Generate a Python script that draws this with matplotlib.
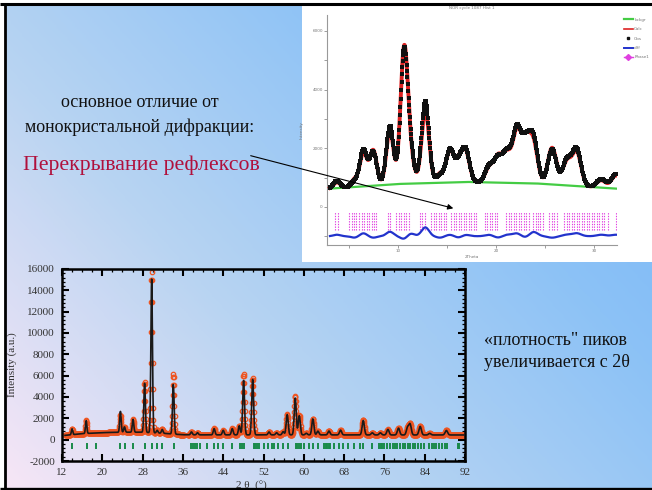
import numpy as np
import matplotlib
matplotlib.use("Agg")
import matplotlib.pyplot as plt
from matplotlib.colors import LinearSegmentedColormap
from matplotlib.lines import Line2D
from matplotlib.patches import Rectangle
from matplotlib.ticker import MultipleLocator, FixedLocator, FuncFormatter

plt.rcParams['font.family'] = ['Liberation Serif', 'DejaVu Serif']
plt.rcParams['axes.unicode_minus'] = False

W, H = 652, 490

# ---- bottom chart: powder pattern with Rietveld fit ----
xrd_peak_pos = [14.0, 16.8, 23.6, 24.4, 26.1, 28.4, 29.8, 30.9, 31.9, 34.1,
                37.7, 38.9, 42.2, 44.0, 45.8, 47.2, 48.05, 49.85, 53.1, 54.6,
                55.9, 56.7, 58.3, 59.1, 60.5, 61.8, 62.8, 65.0, 67.3, 71.8,
                73.6, 75.2, 76.7, 78.8, 80.6, 81.1, 83.1, 85.0, 88.3]
xrd_peak_calc = [550, 1200, 1950, 500, 1200, 4600, 14400, 250, 350, 4650,
                 270, 200, 580, 425, 580, 850, 5100, 5200, 270, 200,
                 300, 1900, 3450, 1800, 150, 1500, 350, 360, 450, 1350,
                 200, 200, 520, 640, 700, 1000, 800, 150, 420]
xrd_peak_obs = [550, 1250, 1600, 500, 1250, 4750, 15050, 300, 400, 5600,
                270, 200, 600, 425, 600, 850, 5700, 5350, 270, 200,
                300, 1950, 3650, 1830, 150, 1520, 350, 360, 450, 1400,
                200, 200, 520, 640, 700, 1050, 830, 150, 430]
xrd_bg_x = [12, 13, 16, 20, 24, 28, 32, 36, 40, 60, 80, 92]
xrd_bg_y = [380, 420, 560, 660, 700, 700, 600, 460, 450, 450, 440, 440]
xrd_excluded = (36.3, 37.0)
xrd_hkl = [13.99, 16.97, 18.83, 23.6, 24.46, 26.1, 28.4, 29.8, 30.9, 31.9,
           34.2, 37.7, 38.0, 38.4, 38.7, 39.4, 40.7, 42.2, 42.9, 44.0,
           45.8, 47.3, 47.65, 48.1, 50.1, 50.4, 50.8, 51.1, 52.0, 52.8,
           53.6, 54.1, 54.9, 55.9, 56.9, 58.4, 58.7, 59.1, 59.4, 60.0,
           61.0, 61.9, 62.8, 64.0, 64.35, 64.7, 65.0, 65.3, 66.0, 67.0,
           67.7, 68.7, 69.9, 71.2, 71.8, 73.6, 75.0, 75.3, 75.6, 75.9,
           76.6, 77.1, 77.8, 78.1, 78.5, 79.1, 79.6, 80.1, 80.6, 81.1,
           81.6, 82.0, 82.6, 83.2, 83.9, 84.9, 85.4, 85.8, 86.2, 86.9,
           87.5, 88.0, 88.5, 90.7, 90.9]
xrd_xticks = [12, 20, 28, 36, 44, 52, 60, 68, 76, 84, 92]
xrd_yticks = [-2000, 0, 2000, 4000, 6000, 8000, 10000, 12000, 14000, 16000]

# ---- inset: profile fit of another pattern ----
ins_peak_pos = [3.8, 5.6, 6.5, 7.5, 9.2, 10.65, 11.3, 12.8, 14.3, 15.3,
                16.2, 16.9, 19.3, 20.2, 21.1, 22.1, 23.0, 23.8, 25.7, 27.2,
                28.2, 30.7, 32.2]
ins_peak_obs = [250, 200, 1250, 1150, 2000, 4450, 900, 2800, 250, 1100,
                600, 1050, 550, 800, 1000, 1800, 1300, 1500, 1200, 850,
                1250, 300, 500]
ins_peak_calc = [200, 250, 1150, 1200, 1850, 4550, 800, 2500, 300, 1050,
                 650, 1000, 500, 850, 950, 1700, 1350, 1350, 1250, 800,
                 1150, 250, 450]
ins_bg_x = [3, 10, 17, 24, 32.3]
ins_bg_y = [620, 780, 850, 800, 620]
ins_hkl = [3.60, 3.94, 5.06, 5.30, 5.57, 5.80, 6.07, 6.31, 6.55, 6.82,
           7.05, 7.33, 7.56, 7.83, 9.02, 9.25, 9.86, 10.13, 10.37, 10.61,
           10.88, 11.15, 12.30, 12.50, 12.74, 13.42, 13.65, 13.92, 14.20, 14.43,
           14.67, 14.94, 15.45, 15.68, 15.96, 16.23, 16.46, 16.70, 16.97, 17.24,
           17.48, 17.72, 17.99, 18.83, 19.07, 19.34, 19.61, 19.85, 20.08, 21.03,
           21.30, 21.54, 21.78, 22.05, 22.32, 22.55, 22.79, 23.06, 23.33, 23.74,
           24.01, 24.25, 24.48, 24.75, 25.43, 25.70, 25.94, 26.17, 26.95, 27.19,
           27.46, 27.73, 27.97, 28.21, 28.48, 28.75, 28.98, 29.22, 29.49, 29.76,
           30.00, 30.23, 30.50, 30.78, 31.01, 31.35, 32.2]
ins_xticks = [10, 20, 30]
ins_yticks = [0, 2000, 4000, 6000]
ins_legend = ['bckgr', 'Calc', 'Obs', 'diff', 'Phase1']
diff_offset = -1000


def profile(x, pos, amp, sig0, sig1):
    y = np.zeros_like(x)
    for p, a in zip(pos, amp):
        s = sig0 + sig1 * p
        y += a * np.exp(-0.5 * ((x - p) / s) ** 2)
    return y


fig = plt.figure(figsize=(W / 100, H / 100), dpi=100, facecolor='white')

# slide background
bg = fig.add_axes([0, 0, 1, 1])
bg.set_xlim(0, W)
bg.set_ylim(H, 0)
bg.axis('off')
gx, gy = np.meshgrid(np.linspace(0, 1, 300), np.linspace(0, 1, 240))
t = 0.6 * gx + 0.4 * (1 - gy)
cmap = LinearSegmentedColormap.from_list(
    'slide', [(0, '#f7e6f6'), (0.35, '#b8d4f2'), (0.7, '#8cc2f6'), (1, '#74b4f8')])
bg.imshow(t, cmap=cmap, extent=(5, W, 488, 5), aspect='auto', interpolation='bilinear')
bg.add_patch(Rectangle((302, 5), W - 302, 257, facecolor='white', edgecolor='none'))

# ---- inset ----
ia = fig.add_axes([327 / W, 1 - 245 / H, 290 / W, 230 / H])
ia.set_facecolor('white')
xi = np.arange(3.1, 32.3, 0.04)
bgi = np.interp(xi, ins_bg_x, ins_bg_y)
obs_i = bgi + profile(xi, ins_peak_pos, ins_peak_obs, 0.33, 0.004)
calc_i = bgi + profile(xi, ins_peak_pos, ins_peak_calc, 0.33, 0.004)
ia.plot(xi, bgi, color='#44cc44', lw=1.6, zorder=2)
ia.plot(xi, calc_i, color='#dd2222', lw=2.8, zorder=3)
ia.plot(xi, obs_i, ls='none', marker='s', ms=2.3, mew=0, color='#111111', zorder=4)
ia.plot(xi, obs_i - calc_i + diff_offset, color='#2233cc', lw=1.6, zorder=3)
ia.vlines(ins_hkl, -800, -180, color='#e040e0', lw=0.8, linestyles=(0, (1.2, 1.2)), zorder=2)
ia.set_xlim(2.8, 32.3)
ia.set_ylim(-1300, 6540)
for side in ('top', 'right'):
    ia.spines[side].set_visible(False)
for side in ('left', 'bottom'):
    ia.spines[side].set_color('#999999')
    ia.spines[side].set_linewidth(0.8)
ia.xaxis.set_major_locator(FixedLocator(ins_xticks))
ia.xaxis.set_minor_locator(MultipleLocator(5))
ia.yaxis.set_major_locator(FixedLocator(ins_yticks))
ia.yaxis.set_minor_locator(MultipleLocator(1000))
ia.tick_params(which='both', labelsize=3, colors='#777777', length=2, width=0.5, pad=1)
for lab in ia.get_xticklabels() + ia.get_yticklabels():
    lab.set_family('DejaVu Sans')
ia.set_xlabel('2Theta', fontsize=3, color='#777777', family='DejaVu Sans', labelpad=1)
ia.set_ylabel('Intensity', fontsize=3, color='#777777', family='DejaVu Sans', labelpad=6)
ia.set_title('NOR cycle 1087 Hist 1', fontsize=3, color='#777777', family='DejaVu Sans', pad=4)
handles = [Line2D([], [], color='#44cc44', lw=1.6),
           Line2D([], [], color='#dd2222', lw=1.2),
           Line2D([], [], ls='none', marker='s', ms=2, color='#111111'),
           Line2D([], [], color='#2233cc', lw=1.4),
           Line2D([], [], color='#e040e0', lw=1.0, marker='D', ms=3)]
fig.legend(handles, ins_legend, loc='upper left', bbox_to_anchor=(620 / W, 1 - 14 / H),
           fontsize=3, frameon=False, handlelength=2.2, labelspacing=1.3,
           handletextpad=0.3, labelcolor='#777777', prop={'family': 'DejaVu Sans', 'size': 3})

# ---- bottom chart ----
ax = fig.add_axes([62 / W, 1 - 461 / H, 403 / W, 192 / H])
ax.set_facecolor('none')
xb = np.arange(12.6, 92.0, 0.05)
bgb = np.interp(xb, xrd_bg_x, xrd_bg_y)
calc_b = bgb + profile(xb, xrd_peak_pos, xrd_peak_calc, 0.11, 0.0015)
obs_b = bgb + profile(xb, xrd_peak_pos, xrd_peak_obs, 0.11, 0.0015)
keep = (xb < xrd_excluded[0]) | (xb > xrd_excluded[1])
ax.plot(xb[keep], obs_b[keep], ls='none', marker='o', ms=3.2, mfc='none',
        mec='#ee5522', mew=0.9, zorder=2)
ax.plot(xb, calc_b, color='#1a1a1a', lw=1.2, zorder=3)
ax.vlines(xrd_hkl, -900, -300, color='#1a8a4a', lw=1.4, zorder=2)
ax.set_xlim(12, 92)
ax.set_ylim(-2000, 16000)
ax.xaxis.set_major_locator(FixedLocator(xrd_xticks))
ax.xaxis.set_minor_locator(MultipleLocator(2))
ax.yaxis.set_major_locator(FixedLocator(xrd_yticks))
ax.yaxis.set_minor_locator(MultipleLocator(400))
ax.yaxis.set_major_formatter(FuncFormatter(lambda v, p: f'{int(v)}'))
ax.tick_params(which='both', direction='in', top=True, right=True, colors='black',
               labelcolor='#333333', labelsize=8)
ax.tick_params(which='major', length=5, width=1.5, pad=5)
ax.tick_params(which='minor', length=2.5, width=0.9)
for s in ax.spines.values():
    s.set_linewidth(1.8)
ax.set_ylabel('Intensity (a.u.)', fontsize=8, color='#333333')
ax.yaxis.set_label_coords(-0.112, 0.5)
ax.set_xlabel('2 θ  (°)', fontsize=8, color='#333333')
ax.xaxis.set_label_coords(0.47, -0.105)

# ---- overlay: slide texts, arrow, frame ----
ov = fig.add_axes([0, 0, 1, 1])
ov.set_xlim(0, W)
ov.set_ylim(H, 0)
ov.axis('off')
ov.text(140, 102, 'основное отличие от', fontsize=13, ha='center', va='center', color='#111111')
ov.text(140, 127, 'монокристальной дифракции:', fontsize=13, ha='center', va='center', color='#111111')
ov.text(23, 165, 'Перекрывание рефлексов', fontsize=15.7, ha='left', va='center', color='#b0103c')
ov.text(484, 340, '«плотность" пиков', fontsize=13, ha='left', va='center', color='#111111')
ov.text(484, 362, 'увеличивается с 2θ', fontsize=13, ha='left', va='center', color='#111111')
ov.annotate('', xy=(456, 209), xytext=(248, 155),
            arrowprops=dict(arrowstyle='-|>', color='black', lw=0.8, mutation_scale=8))
ov.plot([0, W], [4.5, 4.5], color='black', lw=2.2, solid_capstyle='butt')
ov.plot([4.5, 4.5], [4.5, 488.5], color='black', lw=2.0, solid_capstyle='butt')
ov.plot([0, W], [488.8, 488.8], color='black', lw=2.4, solid_capstyle='butt')

fig.savefig('out.png', dpi=100)
